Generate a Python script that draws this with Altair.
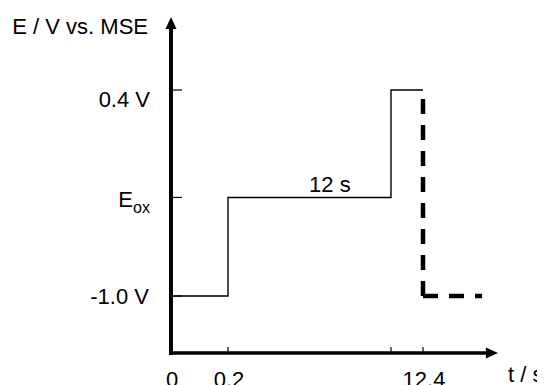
import altair as alt
import pandas as pd

# ---- data (schematic potential program) ----
E_OX = -0.33                      # oxidation potential (schematic level)
step_t = [0.0, 0.2, 12.2, 12.4]   # s
step_E = [-1.0, E_OX, 0.4, 0.4]   # V vs. MSE

dash_t = [12.4, 12.4, 12.4, 12.6]
dash_E = [-1.0, 0.4, -1.0, -1.0]
dash_seg = ["drop", "drop", "tail", "tail"]
dash_ord = [0, 1, 0, 1]

x_tick_t = [0.2, 12.2, 12.4]
x_label_t = [0.0, 0.2, 12.4]
x_label_txt = ["0", "0.2", "12.4"]
y_tick_E = [0.4, E_OX, -1.0]

T_END = 12.654
Y_TOP = 0.896
Y_BOT = -1.387

# broken (schematic) time axis: piecewise linear scale
xs = alt.Scale(domain=[0.0, 0.2, 12.2, 12.4, T_END], range=[0, 57, 220, 252, 327])
ys = alt.Scale(domain=[Y_BOT, Y_TOP], nice=False, zero=False)
FONT = "Liberation Sans"

def X(field="t"):
    return alt.X(f"{field}:Q", scale=xs, axis=None)

def Y(field="E"):
    return alt.Y(f"{field}:Q", scale=ys, axis=None)

step_df = pd.DataFrame({"t": step_t, "E": step_E})
dash_df = pd.DataFrame({"t": dash_t, "E": dash_E, "seg": dash_seg, "o": dash_ord})

step = alt.Chart(step_df).mark_line(color="black", strokeWidth=1.4, interpolate="step-after").encode(x=X(), y=Y())

dashed = alt.Chart(dash_df).mark_line(color="black", strokeWidth=4.5, strokeDash=[15, 11], strokeCap="butt").encode(
    x=X(), y=Y(), detail="seg:N", order="o:Q")

# axes
yaxis_df = pd.DataFrame({"t": [0.0], "t2": [0.0], "E": [Y_BOT], "E2": [Y_TOP]})
yaxis = alt.Chart(yaxis_df).mark_rule(color="black", strokeWidth=4, strokeCap="square", y2Offset=10).encode(
    x=X(), y=Y(), y2="E2:Q")
xaxis_df = pd.DataFrame({"t": [0.0], "t2": [T_END], "E": [Y_BOT]})
xaxis = alt.Chart(xaxis_df).mark_rule(color="black", strokeWidth=3.5, strokeCap="square", x2Offset=-9).encode(
    x=X(), x2="t2:Q", y=Y())

yarrow = alt.Chart(pd.DataFrame({"t": [0.0], "E": [Y_TOP]})).mark_point(
    shape="M0,0L1,2.2L-1,2.2Z", size=121, filled=True, color="black", opacity=1).encode(x=X(), y=Y())
xarrow = alt.Chart(pd.DataFrame({"t": [T_END], "E": [Y_BOT]})).mark_point(
    shape="M0,0L-2.2,-1L-2.2,1Z", size=121, filled=True, color="black", opacity=1).encode(x=X(), y=Y())

ytick_df = pd.DataFrame({"t": [0.0] * len(y_tick_E), "E": y_tick_E})
yticks = alt.Chart(ytick_df).mark_rule(color="black", strokeWidth=1.2, x2Offset=11).encode(
    x=X(), x2="t:Q", y=Y())
xtick_df = pd.DataFrame({"t": x_tick_t, "E": [Y_BOT] * len(x_tick_t)})
xticks = alt.Chart(xtick_df).mark_rule(color="black", strokeWidth=1.2, y2Offset=-6).encode(
    x=X(), y=Y(), y2="E:Q")

# labels
FS = 22
xlab_df = pd.DataFrame({"t": x_label_t, "E": [Y_BOT] * len(x_label_t), "txt": x_label_txt})
xlabels = alt.Chart(xlab_df).mark_text(font=FONT, fontSize=FS, align="center", baseline="middle", dy=27, dx=1).encode(
    x=X(), y=Y(), text="txt:N")

def label(t, E, txt, size=FS, align="right", dx=0, dy=0):
    return alt.Chart(pd.DataFrame({"t": [t], "E": [E], "txt": [txt]})).mark_text(
        font=FONT, fontSize=size, align=align, baseline="middle", dx=dx, dy=dy, color="black").encode(
        x=X(), y=Y(), text="txt:N")

lab_04 = label(0.0, 0.4, "0.4 V", dx=-21, dy=10)
lab_m10 = label(0.0, -1.0, "-1.0 V", dx=-22, dy=1)
lab_E = label(0.0, E_OX, "E", dx=-38, dy=3)
lab_ox = label(0.0, E_OX, "ox", size=16, align="left", dx=-38, dy=11)
lab_title = label(0.0, Y_TOP, "E / V vs. MSE", dx=-23, dy=10)
lab_ts = label(T_END, Y_BOT, "t / s", align="left", dx=10, dy=22)
lab_12 = label(7.7, E_OX, "12 s", align="center", dy=-12)

chart = alt.layer(
    step, dashed, yaxis, xaxis, yarrow, xarrow, yticks, xticks,
    xlabels, lab_04, lab_m10, lab_E, lab_ox, lab_title, lab_ts, lab_12,
).properties(
    width=327, height=336,
    autosize=alt.AutoSizeParams(type="none"),
    padding={"left": 163, "top": 9, "right": 39, "bottom": 32},
).configure_view(stroke=None)

chart.save("out.html", embed_options={"renderer": "svg", "actions": False})
